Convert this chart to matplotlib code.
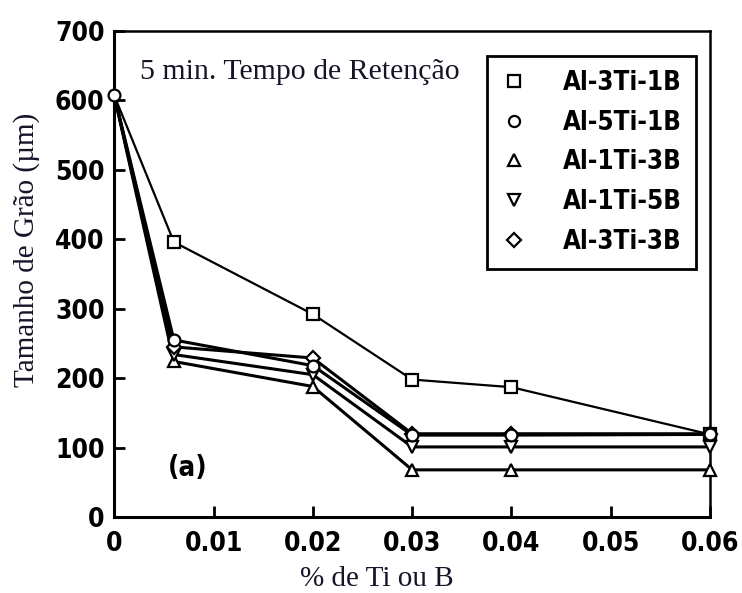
import matplotlib
matplotlib.use("Agg")
import matplotlib.pyplot as plt
from matplotlib.lines import Line2D

# Ti/B addition (%) and grain size (µm) after 5 min holding time
pct = [0.0, 0.006, 0.02, 0.03, 0.04, 0.06]

series_names = ["Al-3Ti-1B", "Al-5Ti-1B", "Al-1Ti-3B", "Al-1Ti-5B", "Al-3Ti-3B"]
al3ti1b = [607, 396, 292, 198, 187, 119]
al5ti1b = [607, 255, 218, 118, 118, 119]
al1ti3b = [607, 224, 188, 68, 68, 68]
al1ti5b = [607, 234, 205, 101, 101, 101]
al3ti3b = [607, 245, 229, 120, 120, 120]

x_ticks = [0, 0.01, 0.02, 0.03, 0.04, 0.05, 0.06]
x_tick_labels = ["0", "0.01", "0.02", "0.03", "0.04", "0.05", "0.06"]
y_ticks = [0, 100, 200, 300, 400, 500, 600, 700]

text_color = "#15152a"
serif = ["Liberation Serif", "DejaVu Serif"]
tick_font = dict(family="DejaVu Sans", weight="bold", stretch="condensed")

fig = plt.figure(figsize=(7.42, 5.93), dpi=100)
ax = fig.add_axes([0.154, 0.128, 0.803, 0.82])

styles = [
    (al3ti1b, "s", 1.6),
    (al1ti3b, "^", 2.2),
    (al1ti5b, "v", 2.2),
    (al3ti3b, "D", 2.2),
    (al5ti1b, "o", 2.2),
]
for vals, mk, lw in styles:
    # the shared starting point at 0 % is shown by a single circle
    every = None if mk == "o" else slice(1, None)
    ax.plot(pct, vals, color="black", lw=lw, marker=mk,
            markersize=7.5 if mk == "D" else 8.5,
            markerfacecolor="white", markeredgecolor="black",
            markeredgewidth=1.6, markevery=every, zorder=3,
            clip_on=False)

ax.set_xlim(0, 0.06)
ax.set_ylim(0, 700)
ax.set_xticks(x_ticks)
ax.set_xticklabels(x_tick_labels)
ax.set_yticks(y_ticks)

for side in ["left", "bottom"]:
    ax.spines[side].set_linewidth(2.2)
for side in ["top", "right"]:
    ax.spines[side].set_linewidth(1.8)

ax.tick_params(axis="both", direction="in", length=8, width=2,
               labelsize=19, colors="black")
ax.tick_params(axis="x", pad=10)
ax.tick_params(axis="y", pad=7)
for lab in ax.get_xticklabels() + ax.get_yticklabels():
    lab.set_fontfamily(tick_font["family"])
    lab.set_fontweight(tick_font["weight"])
    lab.set_fontstretch(tick_font["stretch"])

ax.set_xlabel("% de Ti ou B", fontsize=21, family=serif, color=text_color)
ax.set_ylabel("Tamanho de Grão (µm)", fontsize=21, family=serif,
              color=text_color)
ax.xaxis.set_label_coords(0.44, -0.100)
ax.yaxis.set_label_coords(-0.125, 0.55)

ax.text(0.044, 0.915, "5 min. Tempo de Retenção", transform=ax.transAxes,
        fontsize=21.5, family=serif, color=text_color, ha="left", va="center")
ax.text(0.123, 0.101, "(a)", transform=ax.transAxes, fontsize=20,
        ha="center", va="center", **tick_font)

legend_markers = ["s", "o", "^", "v", "D"]
handles = [Line2D([], [], linestyle="none", marker=m,
                  markersize=7 if m == "D" else 8,
                  markerfacecolor="white", markeredgecolor="black",
                  markeredgewidth=1.6)
           for m in legend_markers]
leg = ax.legend(handles, series_names, loc="upper left",
                bbox_to_anchor=(0.626, 0.948), borderaxespad=0,
                frameon=True, fancybox=False,
                framealpha=1, edgecolor="black", borderpad=0.55,
                labelspacing=0.53, handlelength=1.0, handletextpad=1.4,
                prop=dict(family="DejaVu Sans", weight="bold",
                          stretch="condensed", size=18.5))
leg.get_frame().set_linewidth(2)

fig.savefig("out.png", dpi=100)
